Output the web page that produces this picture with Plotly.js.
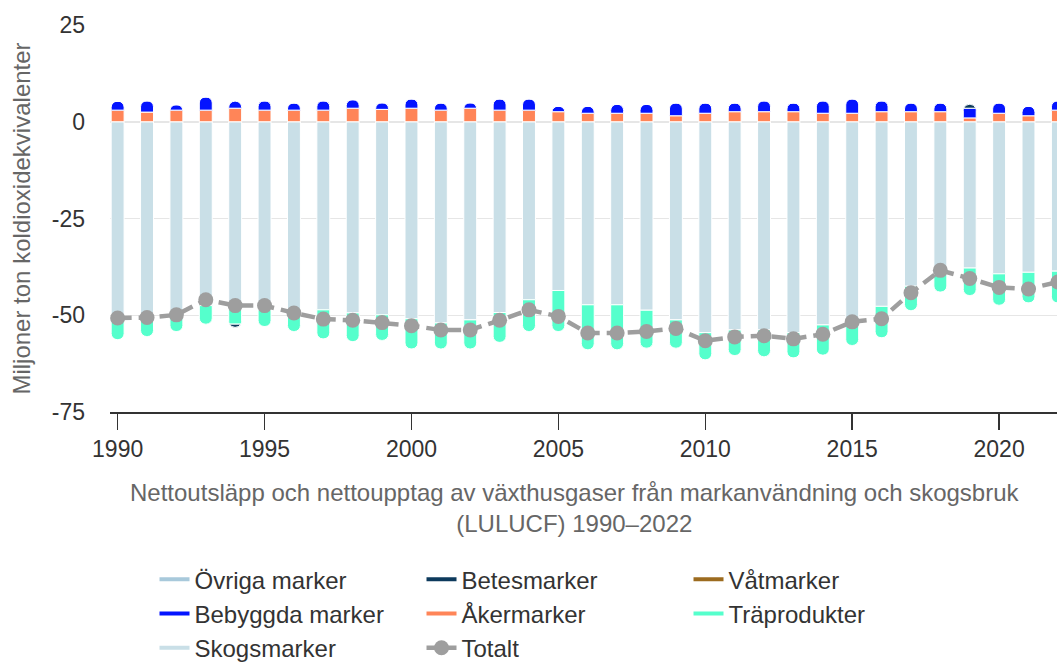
<!DOCTYPE html>
<html>
<head>
<meta charset="utf-8">
<script src="https://cdn.plot.ly/plotly-3.0.1.min.js"></script>
<style>
	html, body { margin: 0; padding: 0; background: #fff; overflow: hidden; }
</style>
</head>
<body>
<div id="chart"></div>
<script>
var years = [1990, 1991, 1992, 1993, 1994, 1995, 1996, 1997, 1998, 1999,
	2000, 2001, 2002, 2003, 2004, 2005, 2006, 2007, 2008, 2009,
	2010, 2011, 2012, 2013, 2014, 2015, 2016, 2017, 2018, 2019,
	2020, 2021, 2022];

var ovrigaMarker = [0, 0, 0, 0, 0, 0, 0, 0, 0, 0,
	0, 0, 0, 0, 0, 0, 0, 0, 0, 0,
	0, 0, 0, 0, 0, 0, 0, 0, 0, 0,
	0, 0, 0];
var vatmarker = [0, 0, 0, 0, 0, 0, 0, 0, 0, 0,
	0, 0, 0, 0, 0, 0, 0, 0, 0, 0,
	0, 0, 0, 0, 0, 0, 0, 0, 0, 0,
	0, 0, 0];
var skogsmarker = [-51.0, -51.0, -50.3, -47.5, -48.4, -48.6, -49.5, -48.6, -49.4, -49.9,
	-50.9, -52.0, -51.2, -49.3, -46.0, -43.6, -47.3, -47.3, -48.7, -51.2,
	-54.5, -53.8, -53.8, -54.5, -52.5, -51.3, -47.7, -42.5, -39.5, -37.8,
	-39.3, -38.9, -38.6];
var akermarker = [3.0, 2.5, 3.0, 3.0, 3.5, 3.0, 3.0, 3.0, 3.5, 3.2,
	3.5, 3.0, 3.5, 3.0, 3.0, 2.6, 2.2, 2.2, 2.2, 1.55,
	2.2, 2.6, 2.6, 2.6, 2.2, 2.2, 2.6, 2.6, 2.6, 1.0,
	2.2, 1.55, 3.0];
var traprodukter = [-5.3, -4.5, -3.9, -4.8, -3.9, -4.3, -4.7, -7.5, -7.4, -6.6,
	-7.8, -6.7, -7.5, -7.7, -8.2, -10.6, -11.6, -11.6, -9.8, -7.3,
	-7.0, -6.6, -6.9, -6.5, -7.8, -6.5, -8.1, -6.3, -4.5, -7.1,
	-8.1, -7.9, -8.2];
var bebyggdaMarker = [2.3, 2.9, 1.4, 3.4, 1.8, 2.4, 1.85, 2.4, 2.2, 1.7,
	2.4, 1.85, 1.4, 2.9, 2.9, 1.4, 1.8, 2.3, 2.3, 3.3,
	2.65, 2.25, 2.8, 2.25, 3.2, 3.7, 2.8, 2.25, 2.25, 2.5,
	2.65, 2.45, 2.4];
var betesmarker = [0, 0, 0, 0, -0.8, 0, 0, 0, 0, 0,
	0, 0, 0, 0, 0, 0, 0, 0, 0, 0,
	0, 0, 0, 0, 0, 0, 0, 0, 0, 1.0,
	0, 0, 0];
var totalt = [-50.7, -50.6, -49.9, -46.0, -47.5, -47.5, -49.4, -51.0, -51.3, -51.9,
	-52.7, -53.8, -53.8, -51.3, -48.6, -50.3, -54.6, -54.6, -54.2, -53.4,
	-56.6, -55.6, -55.3, -56.1, -54.9, -51.7, -50.9, -44.2, -38.4, -40.5,
	-42.8, -43.2, -41.4];

var yTicks = [-75, -50, -25, 0, 25];

var colors = {
	ovriga: '#a8c9db',
	betes: '#0d3a5c',
	vat: '#9c6b1f',
	bebyggda: '#0414ff',
	aker: '#ff8558',
	tra: '#55ffcc',
	skog: '#c9dfe7',
	totalt: '#9e9e9e'
};

function barTrace(name, values, color) {
	return {
		type: 'bar',
		name: name,
		x: years,
		y: values,
		showlegend: false,
		hoverinfo: 'skip',
		marker: {color: color, line: {color: '#ffffff', width: 1}}
	};
}

// legend uses line symbols, so the bars get separate legend entries
function legendTrace(name, color, rank) {
	return {
		type: 'scatter',
		mode: 'lines',
		name: name,
		x: [null],
		y: [null],
		legendrank: rank,
		hoverinfo: 'skip',
		line: {color: color, width: 4}
	};
}

var data = [
	barTrace('Övriga marker', ovrigaMarker, colors.ovriga),
	barTrace('Våtmarker', vatmarker, colors.vat),
	barTrace('Skogsmarker', skogsmarker, colors.skog),
	barTrace('Åkermarker', akermarker, colors.aker),
	barTrace('Träprodukter', traprodukter, colors.tra),
	barTrace('Bebyggda marker', bebyggdaMarker, colors.bebyggda),
	barTrace('Betesmarker', betesmarker, colors.betes),
	legendTrace('Övriga marker', colors.ovriga, 1),
	legendTrace('Betesmarker', colors.betes, 2),
	legendTrace('Våtmarker', colors.vat, 3),
	legendTrace('Bebyggda marker', colors.bebyggda, 4),
	legendTrace('Åkermarker', colors.aker, 5),
	legendTrace('Träprodukter', colors.tra, 6),
	legendTrace('Skogsmarker', colors.skog, 7),
	{
		type: 'scatter',
		mode: 'lines+markers',
		name: 'Totalt',
		x: years,
		y: totalt,
		legendrank: 8,
		line: {color: colors.totalt, width: 4.5, dash: '14px,7px'},
		marker: {color: colors.totalt, size: 15}
	}
];

var fontFamily = 'Liberation Sans, Arial, Helvetica, sans-serif';

var layout = {
	width: 1057,
	height: 663,
	margin: {l: 110, r: 0, t: 25, b: 251},
	paper_bgcolor: '#ffffff',
	plot_bgcolor: '#ffffff',
	font: {family: fontFamily, size: 24, color: '#333333'},
	barmode: 'relative',
	bargap: 0.56,
	barcornerradius: 6,
	xaxis: {
		range: [1989.74, 2021.97],
		tick0: 1990,
		dtick: 5,
		showgrid: false,
		zeroline: false,
		showline: true,
		linecolor: '#333333',
		linewidth: 1.5,
		ticks: 'outside',
		ticklen: 16,
		tickwidth: 1.5,
		tickcolor: '#333333',
		tickfont: {size: 23, color: '#333333'}
	},
	yaxis: {
		range: [-75, 25],
		tickvals: yTicks,
		ticktext: yTicks.map(String),
		showgrid: true,
		gridcolor: '#e6e6e6',
		gridwidth: 1.5,
		zeroline: false,
		showline: false,
		ticks: '',
		ticklabelstandoff: 24,
		tickfont: {size: 23, color: '#333333'},
		title: {
			text: 'Miljoner ton koldioxidekvivalenter',
			font: {size: 24, color: '#666666'},
			standoff: 14
		}
	},
	annotations: [{
		text: 'Nettoutsläpp och nettoupptag av växthusgaser från markanvändning och skogsbruk<br>(LULUCF) 1990–2022',
		xref: 'paper',
		yref: 'paper',
		x: 0.491,
		y: -0.168,
		xanchor: 'center',
		yanchor: 'top',
		showarrow: false,
		font: {size: 24, color: '#666666'}
	}],
	showlegend: true,
	legend: {
		orientation: 'h',
		x: 0.047,
		xanchor: 'left',
		yref: 'container',
		y: 0.1595,
		yanchor: 'top',
		entrywidth: 222,
		font: {size: 24, color: '#333333'},
		bgcolor: 'rgba(0,0,0,0)'
	}
};

Plotly.newPlot('chart', data, layout, {displayModeBar: false, staticPlot: true});
</script>
</body>
</html>
